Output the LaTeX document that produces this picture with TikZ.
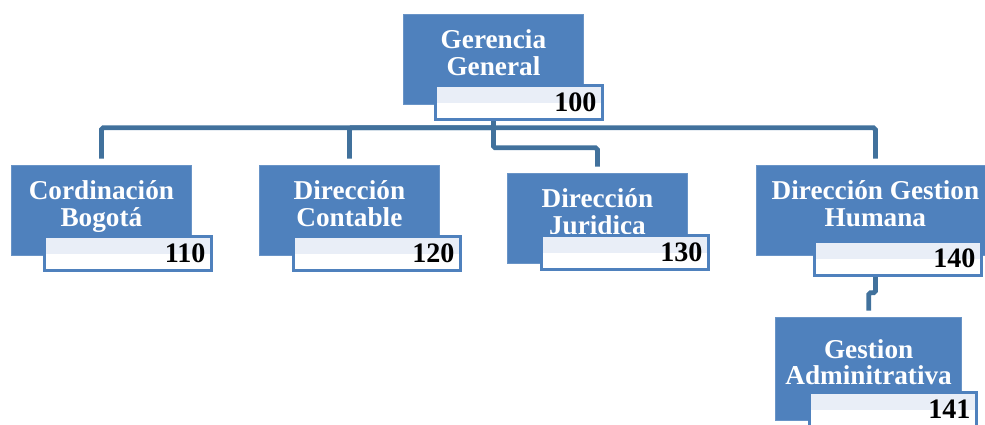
\documentclass[tikz,border=0pt]{standalone}
\usepackage{fontspec}
\usepackage{tikz}
\usepackage{xcolor}
\usetikzlibrary{positioning}
\setmainfont{Liberation Serif}

\definecolor{unitblue}{HTML}{4F81BD}
\definecolor{linkblue}{HTML}{41719C}
\definecolor{codelight}{HTML}{E9EEF7}

\begin{document}
\begin{tikzpicture}[
    x=0.02cm, y=-0.02cm,
    unit/.style={rectangle, fill=unitblue, draw=unitblue!85!white, line width=0.5pt, anchor=north west, minimum width=3.6cm, minimum height=1.8cm, inner xsep=0.2cm, align=center, text=white, text depth=8pt, font=\fontsize{15.5}{15}\selectfont\bfseries},
    code/.style={rectangle, draw=unitblue, fill=white, line width=1.8pt, anchor=north west, minimum height=0.68cm, text width=3.1cm, inner xsep=0.12cm, inner ysep=0pt, align=right, font=\fontsize{16}{16}\selectfont\bfseries, path picture={\fill[codelight] (path picture bounding box.north west) rectangle (path picture bounding box.east);}},
    link/.style={draw=linkblue, line width=2.7pt, rounded corners=1pt, shorten >=0.13cm}
]
\useasboundingbox (0,0) rectangle (985,424);

% Units
\node [unit] (gg) at (403,14) {Gerencia\\General};
\node [unit] (cb) at (11,165) {Cordinación\\Bogotá};
\node [unit] (dc) at (259,165) {Dirección\\Contable};
\node [unit] (dj) at (507,173) {Dirección\\Juridica};
\node [unit, minimum width=4.76cm] (dgh) at (756,165) {Dirección Gestion\\Humana};
\node [unit, minimum height=2.06cm] (ga) at (775,317) {Gestion\\Adminitrativa};

% Links
\draw [link] (gg.south) -- ++(0,23) -| (cb.north);
\draw [link] (gg.south) -- ++(0,23) -| (dc.north);
\draw [link] (gg.south) -- ++(0,23) -| (dgh.north);
\draw [link] (gg.south) -- ++(0,43) -| (dj.north);
\draw [link] (dgh.south) -- ++(0,37) -| (ga.north);

% Codes
\node [code] (gg-code) at ([shift={(31,70)}]gg.north west) {100};
\node [code] (cb-code) at ([shift={(32,70)}]cb.north west) {110};
\node [code] (dc-code) at ([shift={(33,70)}]dc.north west) {120};
\node [code] (dj-code) at ([shift={(33,61)}]dj.north west) {130};
\node [code] (dgh-code) at ([shift={(57,75)}]dgh.north west) {140};
\node [code] (ga-code) at ([shift={(33,74)}]ga.north west) {141};

\end{tikzpicture}
\end{document}
